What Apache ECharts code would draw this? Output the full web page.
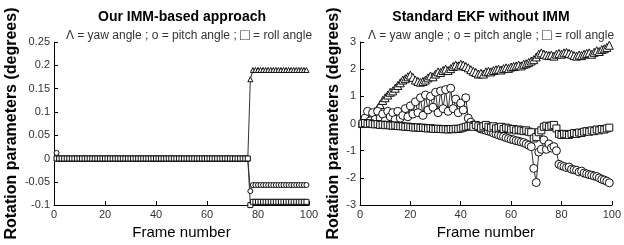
<!DOCTYPE html>
<html>
<head>
<meta charset="utf-8">
<script src="https://cdn.jsdelivr.net/npm/echarts@6/dist/echarts.min.js"></script>
<style>
  html, body { margin: 0; padding: 0; background: #fff; }
  #chart { width: 624px; height: 245px; }
</style>
</head>
<body>
<div id="chart"></div>
<script>
// frame numbers 1..99
var frames = [];
for (var f = 1; f <= 99; f++) frames.push(f);

// left panel: IMM-based approach
var immYaw = [
  0,0,0,0,0,0,0,0,0,0, 0,0,0,0,0,0,0,0,0,0, 0,0,0,0,0,0,0,0,0,0,
  0,0,0,0,0,0,0,0,0,0, 0,0,0,0,0,0,0,0,0,0, 0,0,0,0,0,0,0,0,0,0,
  0,0,0,0,0,0,0,0,0,0, 0,0,0,0,0,0,0.17,0.19,0.19,0.19,
  0.19,0.19,0.19,0.19,0.19,0.19,0.19,0.19,0.19,0.19, 0.19,0.19,0.19,0.19,0.19,0.19,0.19,0.19,0.19
];
var immPitch = [
  0.012,0,0,0,0,0,0,0,0,0, 0,0,0,0,0,0,0,0,0,0, 0,0,0,0,0,0,0,0,0,0,
  0,0,0,0,0,0,0,0,0,0, 0,0,0,0,0,0,0,0,0,0, 0,0,0,0,0,0,0,0,0,0,
  0,0,0,0,0,0,0,0,0,0, 0,0,0,0,0,0,-0.07,-0.057,-0.057,-0.057,
  -0.057,-0.057,-0.057,-0.057,-0.057,-0.057,-0.057,-0.057,-0.057,-0.057,
  -0.057,-0.057,-0.057,-0.057,-0.057,-0.057,-0.057,-0.057,-0.057
];
var immRoll = [
  0,0,0,0,0,0,0,0,0,0, 0,0,0,0,0,0,0,0,0,0, 0,0,0,0,0,0,0,0,0,0,
  0,0,0,0,0,0,0,0,0,0, 0,0,0,0,0,0,0,0,0,0, 0,0,0,0,0,0,0,0,0,0,
  0,0,0,0,0,0,0,0,0,0, 0,0,0,0,0,0,-0.1,-0.093,-0.093,-0.093,
  -0.093,-0.093,-0.093,-0.093,-0.093,-0.093,-0.093,-0.093,-0.093,-0.093,
  -0.093,-0.093,-0.093,-0.093,-0.093,-0.093,-0.093,-0.093,-0.093
];

// right panel: standard EKF
var ekfYaw = [
  0,0.05,0.15,0.25,0.35,0.45,0.55,0.7,0.85,0.95,
  1.05,1.15,1.2,1.3,1.4,1.5,1.6,1.65,1.72,1.78,
  1.7,1.6,1.55,1.52,1.55,1.6,1.68,1.75,1.72,1.82,
  1.9,1.88,1.95,2.0,1.95,2.02,2.1,2.15,2.12,2.18,
  2.15,2.1,2.05,1.98,1.92,1.88,1.82,1.85,1.82,1.9,
  1.92,1.9,1.95,1.98,2.0,1.97,2.02,2.05,2.03,2.08,
  2.1,2.12,2.15,2.12,2.18,2.2,2.25,2.3,2.35,2.45,
  2.55,2.6,2.55,2.52,2.5,2.52,2.48,2.55,2.58,2.55,
  2.6,2.62,2.58,2.55,2.5,2.48,2.52,2.5,2.55,2.58,
  2.6,2.55,2.62,2.68,2.65,2.72,2.75,2.8,2.88
];
var ekfPitch = [
  0,0.2,0.45,0.1,0.4,0.15,0.45,0.2,0.35,0.1,
  0.45,0.25,0.4,0.15,0.45,0.2,0.3,0.55,0.25,0.65,
  0.35,0.8,0.4,0.95,0.3,1.05,0.5,1.0,0.6,1.15,
  0.4,1.2,0.55,1.25,0.45,1.3,0.55,0.9,0.4,0.75,
  0.5,0.95,0.2,0.05,-0.05,-0.1,-0.15,-0.2,-0.22,-0.25,
  -0.28,-0.3,-0.35,-0.38,-0.42,-0.45,-0.48,-0.52,-0.55,-0.58,
  -0.6,-0.63,-0.65,-0.68,-0.7,-0.75,-0.8,-0.85,-1.65,-2.17,
  -1.05,-0.95,-0.6,-0.95,-0.75,-0.9,-0.85,-1.0,-1.5,-1.55,
  -1.58,-1.62,-1.6,-1.68,-1.7,-1.72,-1.78,-1.75,-1.82,-1.85,
  -1.88,-1.9,-1.93,-1.95,-2.0,-2.05,-2.08,-2.12,-2.18
];
var ekfRoll = [
  0,0.02,-0.01,0.01,-0.02,-0.03,-0.02,-0.05,-0.04,-0.06,
  -0.05,-0.07,-0.08,-0.07,-0.09,-0.1,-0.1,-0.12,-0.11,-0.13,
  -0.14,-0.15,-0.14,-0.16,-0.15,-0.17,-0.18,-0.17,-0.19,-0.2,
  -0.19,-0.2,-0.21,-0.2,-0.22,-0.2,-0.21,-0.19,-0.2,-0.18,
  -0.15,-0.12,-0.1,-0.08,-0.12,-0.05,-0.1,-0.15,-0.1,-0.05,
  -0.12,-0.15,-0.1,-0.18,-0.15,-0.12,-0.2,-0.15,-0.18,-0.22,
  -0.2,-0.25,-0.22,-0.25,-0.28,-0.25,-0.3,-0.32,-0.55,-0.5,
  -0.32,-0.25,-0.12,-0.08,-0.12,-0.08,-0.05,-0.18,-0.38,-0.42,
  -0.38,-0.4,-0.42,-0.38,-0.35,-0.38,-0.33,-0.35,-0.3,-0.28,
  -0.3,-0.25,-0.28,-0.22,-0.25,-0.2,-0.22,-0.18,-0.15
];

var subText = 'Λ = yaw angle ; o = pitch angle ; {b|\u25A1} = roll angle';
var fontFam = '"Liberation Sans", Arial, sans-serif';

function pairs(ys) {
  return frames.map(function (x, i) { return [x, ys[i]]; });
}

function mkSeries(idx, ys, sym, size) {
  return {
    type: 'line',
    xAxisIndex: idx,
    yAxisIndex: idx,
    data: pairs(ys),
    symbol: sym,
    symbolSize: size,
    showAllSymbol: true,
    animation: false,
    lineStyle: { color: '#333', width: 1 },
    itemStyle: { color: '#fff', borderColor: '#111', borderWidth: 1 }
  };
}

function xAx(idx) {
  return {
    gridIndex: idx, type: 'value', min: 0, max: 100, interval: 20,
    name: 'Frame number', nameLocation: 'middle', nameGap: 18,
    nameTextStyle: { fontSize: 15, color: '#000', fontFamily: fontFam },
    axisLine: { onZero: false, lineStyle: { color: '#000' } },
    axisTick: { inside: true, length: 4, lineStyle: { color: '#000' } },
    axisLabel: { fontSize: 11, color: '#333', margin: 4, fontFamily: fontFam },
    splitLine: { show: false }
  };
}

function yAx(idx, mn, mx, step, gap) {
  return {
    gridIndex: idx, type: 'value', min: mn, max: mx, interval: step,
    name: 'Rotation parameters (degrees)', nameLocation: 'middle', nameGap: gap,
    nameTextStyle: { fontSize: 16, fontWeight: 'bold', color: '#000', fontFamily: fontFam },
    axisLine: { show: true, onZero: false, lineStyle: { color: '#000' } },
    axisTick: { show: true, inside: true, length: 4, lineStyle: { color: '#000' } },
    axisLabel: { fontSize: 11, color: '#333', margin: 4, fontFamily: fontFam },
    splitLine: { show: false }
  };
}

function head(txt, x, y, size, bold) {
  return {
    text: txt, left: x, top: y, textAlign: 'center',
    textStyle: {
      fontSize: size, fontWeight: bold ? 'bold' : 'normal', color: bold ? '#000' : '#333', fontFamily: fontFam,
      rich: { b: { fontSize: 16, color: '#333', fontFamily: fontFam } }
    }
  };
}

var chart = echarts.init(document.getElementById('chart'));
chart.setOption({
  backgroundColor: '#fff',
  animation: false,
  title: [
    head('Our IMM-based approach', 177, 5, 14, true),
    head(subText, 184, 23, 12, false),
    head('Standard EKF without IMM', 476, 5, 14, true),
    head(subText, 486, 23, 12, false)
  ],
  grid: [
    { left: 54, right: 315, top: 42, bottom: 32 },
    { left: 360, right: 6, top: 42, bottom: 32 }
  ],
  xAxis: [xAx(0), xAx(1)],
  yAxis: [yAx(0, -0.1, 0.25, 0.05, 34), yAx(1, -3, 3, 1, 18)],
  series: [
    mkSeries(0, immYaw, 'triangle', 5),
    mkSeries(0, immPitch, 'circle', 5),
    mkSeries(0, immRoll, 'rect', 5),
    mkSeries(1, ekfYaw, 'triangle', 8),
    mkSeries(1, ekfPitch, 'circle', 8),
    mkSeries(1, ekfRoll, 'rect', 7)
  ]
});
</script>
</body>
</html>
